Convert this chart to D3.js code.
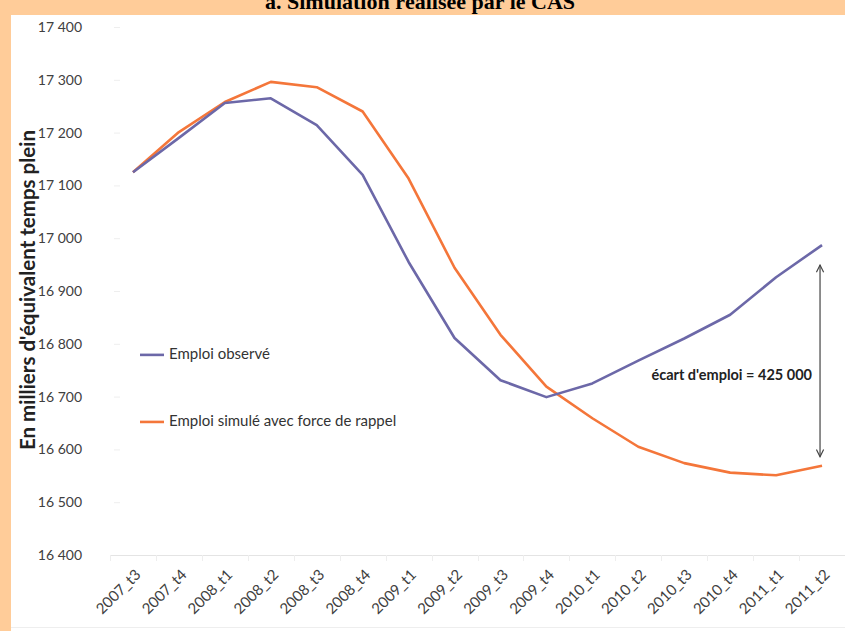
<!DOCTYPE html>
<html>
<head>
<meta charset="utf-8">
<script src="https://cdn.jsdelivr.net/npm/d3@7"></script>
<style>
  html, body { margin: 0; padding: 0; background: #FFCC99; }
  svg { display: block; }
</style>
</head>
<body>
<svg id="chart" width="845" height="631"></svg>
<script>
const categories = ["2007_t3","2007_t4","2008_t1","2008_t2","2008_t3","2008_t4","2009_t1","2009_t2","2009_t3","2009_t4","2010_t1","2010_t2","2010_t3","2010_t4","2011_t1","2011_t2"];
const observed  = [17125,17190,17256,17265,17214,17120,16955,16811,16731,16699,16725,16768,16810,16855,16926,16987];
const simulated = [17125,17201,17258,17296,17286,17240,17113,16944,16817,16719,16659,16605,16574,16556,16551,16569];
const yTicks = [16400,16500,16600,16700,16800,16900,17000,17100,17200,17300,17400];
const seriesNames = ["Emploi observé", "Emploi simulé avec force de rappel"];
const titleText = "a. Simulation réalisée par le CAS";
const yTitle = "En milliers d'équivalent temps plein";
const gapText = "écart d'emploi = 425 000";

const colObs = "#6C68A8", colSim = "#F4763A";
const svg = d3.select("#chart");
const font = "Lato, 'Open Sans', sans-serif";

svg.append("rect").attr("x",0).attr("y",0).attr("width",845).attr("height",631).attr("fill","#FFCC99");
svg.append("rect").attr("x",11).attr("y",15).attr("width",834).attr("height",616).attr("fill","#fff");
svg.append("line").attr("x1",11).attr("x2",845).attr("y1",627.5).attr("y2",627.5).attr("stroke","#eeeeee");

svg.append("text").attr("x",420).attr("y",9).attr("text-anchor","middle")
  .attr("font-family","'Liberation Serif', 'Times New Roman', serif").attr("font-weight","bold")
  .attr("font-size",22).attr("fill","#000").text(titleText);

const x = d3.scalePoint().domain(categories).range([110, 845]).padding(0.5);
const y = d3.scaleLinear().domain([16400, 17400]).range([555, 27]);

// y axis labels + faint ticks
const yAxis = d3.axisLeft(y).tickValues(yTicks).tickSize(6).tickPadding(32)
  .tickFormat(d => d3.format(",")(d).replace(",", " "));
const gy = svg.append("g").attr("transform","translate(120,0)").call(yAxis);
gy.select(".domain").remove();
gy.selectAll(".tick line").attr("stroke","#eeeeee");
gy.selectAll(".tick text").attr("font-family",font).attr("font-size",14).attr("fill","#404040");

// x axis
const step = x.step();
svg.append("line").attr("x1",110).attr("x2",845).attr("y1",y(16400)+0.5).attr("y2",y(16400)+0.5).attr("stroke","#e4e4e4");
svg.append("g").selectAll("line").data(categories).join("line")
  .attr("x1", d => Math.round(x(d) - step/2) + 0.5).attr("x2", d => Math.round(x(d) - step/2) + 0.5)
  .attr("y1", y(16400)).attr("y2", y(16400) + 6).attr("stroke","#eeeeee");
svg.append("g").selectAll("text").data(categories).join("text")
  .attr("transform", d => `translate(${x(d)+6},${y(16400)+18}) rotate(-45)`)
  .attr("text-anchor","end").attr("dominant-baseline","middle")
  .attr("font-family",font).attr("font-size",15).attr("fill","#404040").text(d => d);

// y title
svg.append("text").attr("transform","translate(35,290) rotate(-90)").attr("text-anchor","middle")
  .attr("font-family",font).attr("font-weight","bold").attr("font-size",20.5).attr("fill","#222").text(yTitle);

// lines
const line = d3.line().x((d,i) => x(categories[i])).y(d => y(d));
svg.append("path").datum(simulated).attr("d", line).attr("fill","none").attr("stroke",colSim).attr("stroke-width",2.6).attr("stroke-linejoin","round");
svg.append("path").datum(observed).attr("d", line).attr("fill","none").attr("stroke",colObs).attr("stroke-width",2.6).attr("stroke-linejoin","round");

// legend
const legend = [{name: seriesNames[0], color: colObs, yv: 16779}, {name: seriesNames[1], color: colSim, yv: 16652}];
legend.forEach(l => {
  svg.append("line").attr("x1",140).attr("x2",164).attr("y1",y(l.yv)).attr("y2",y(l.yv)).attr("stroke",l.color).attr("stroke-width",2.6);
  svg.append("text").attr("x",169).attr("y",y(l.yv)).attr("dominant-baseline","middle")
    .attr("font-family",font).attr("font-size",15).attr("fill","#333").text(l.name);
});

// gap arrow
const last = categories[categories.length-1];
const ax = x(last) - 2;
const yTop = y(observed[observed.length-1]) + 20, yBot = y(simulated[simulated.length-1]) - 9;
svg.append("defs").html(`<marker id="ah" viewBox="0 0 10 10" refX="9" refY="5" markerWidth="9" markerHeight="9" orient="auto-start-reverse" markerUnits="userSpaceOnUse"><path d="M1,1 L9,5 L1,9" fill="none" stroke="#444" stroke-width="1.3"/></marker>`);
svg.append("line").attr("x1",ax).attr("x2",ax).attr("y1",yTop).attr("y2",yBot)
  .attr("stroke","#444").attr("stroke-width",1.2).attr("marker-start","url(#ah)").attr("marker-end","url(#ah)");
svg.append("text").attr("x",812).attr("y",(yTop+yBot)/2 + 15).attr("text-anchor","end").attr("dominant-baseline","middle")
  .attr("font-family",font).attr("font-weight","bold").attr("font-size",14.5).attr("fill","#222").text(gapText);
</script>
</body>
</html>
